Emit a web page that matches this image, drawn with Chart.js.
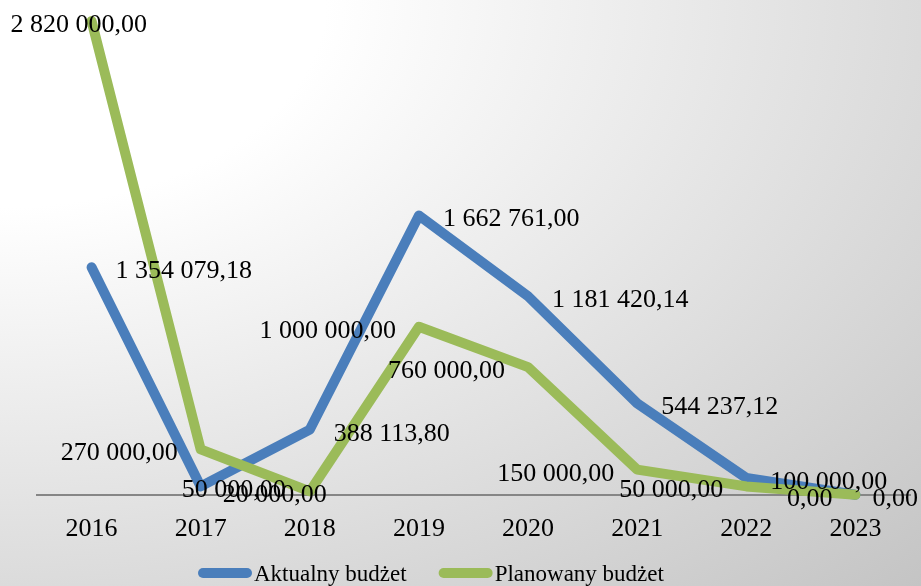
<!DOCTYPE html>
<html>
<head>
<meta charset="utf-8">
<script src="https://cdn.jsdelivr.net/npm/chart.js@4/dist/chart.umd.min.js"></script>
<style>
html,body{margin:0;padding:0;}
body{width:921px;height:586px;overflow:hidden;
  background:radial-gradient(ellipse farthest-corner at 0 0,#ffffff 0%,#ffffff 25%,#c4c4c4 100%);}
canvas{display:block;}
</style>
</head>
<body>
<canvas id="c" width="921" height="586"></canvas>
<script>
const years = ['2016', '2017', '2018', '2019', '2020', '2021', '2022', '2023'];
const actualBudget = [1354079.18, 50000.00, 388113.80, 1662761.00, 1181420.14, 544237.12, 100000.00, 0.00];
const plannedBudget = [2820000.00, 270000.00, 20000.00, 1000000.00, 760000.00, 150000.00, 50000.00, 0.00];
const seriesNames = ['Aktualny budżet', 'Planowany budżet'];

const SERIF = "'Liberation Serif','Times New Roman',serif";
const BLUE = '#4a7ebb';
const GREEN = '#9bbb59';

function fmtPL(v) {
  const parts = v.toFixed(2).split('.');
  return parts[0].replace(/\B(?=(\d{3})+(?!\d))/g, ' ') + ',' + parts[1];
}

// label placement: default side per dataset, with a few exceptions (as in the original)
const labelSide = ['right', 'left'];
const labelExceptions = {
  '0:1': {align: 'left', dx: -19},
  '0:7': {align: 'left', dx: 17},
  '1:0': {align: 'left', dx: -81},
  '1:2': {align: 'left', dx: -87}
};

const dataLabelPlugin = {
  id: 'dataLabels',
  afterDatasetsDraw(chart) {
    const ctx = chart.ctx;
    ctx.save();
    ctx.font = '26px ' + SERIF;
    ctx.fillStyle = '#000';
    ctx.textBaseline = 'alphabetic';
    chart.data.datasets.forEach((ds, di) => {
      const meta = chart.getDatasetMeta(di);
      meta.data.forEach((pt, i) => {
        const txt = fmtPL(ds.data[i]);
        const ex = labelExceptions[di + ':' + i];
        let x, align;
        if (ex) { x = pt.x + ex.dx; align = ex.align; }
        else if (labelSide[di] === 'right') { x = pt.x + 24; align = 'left'; }
        else { x = pt.x - 23; align = 'right'; }
        ctx.textAlign = align;
        ctx.fillText(txt, x, pt.y + 11);
      });
    });
    ctx.restore();
  }
};

const legendPlugin = {
  id: 'customLegend',
  afterDraw(chart) {
    const ctx = chart.ctx;
    ctx.save();
    ctx.font = '23px ' + SERIF;
    ctx.fillStyle = '#000';
    ctx.textBaseline = 'alphabetic';
    ctx.textAlign = 'left';
    let x = 198;
    chart.data.datasets.forEach((ds, di) => {
      ctx.strokeStyle = ds.borderColor;
      ctx.lineWidth = 10;
      ctx.lineCap = 'round';
      ctx.beginPath();
      ctx.moveTo(x + 5, 573);
      ctx.lineTo(x + 49, 573);
      ctx.stroke();
      ctx.fillText(ds.label, x + 56, 581);
      x += 56 + ctx.measureText(ds.label).width + 32;
    });
    ctx.restore();
  }
};

new Chart(document.getElementById('c'), {
  type: 'line',
  data: {
    labels: years,
    datasets: [
      {label: seriesNames[0], data: actualBudget, borderColor: BLUE, backgroundColor: BLUE,
       borderWidth: 10, pointRadius: 0, tension: 0, borderCapStyle: 'round', borderJoinStyle: 'round',
       clip: false, order: 2},
      {label: seriesNames[1], data: plannedBudget, borderColor: GREEN, backgroundColor: GREEN,
       borderWidth: 10, pointRadius: 0, tension: 0, borderCapStyle: 'round', borderJoinStyle: 'round',
       clip: false, order: 1}
    ]
  },
  options: {
    responsive: false,
    devicePixelRatio: 1,
    animation: false,
    layout: {padding: {left: 37, right: 11, top: 21, bottom: 22}},
    plugins: {legend: {display: false}, tooltip: {enabled: false}},
    scales: {
      x: {
        offset: true,
        grid: {display: false, drawTicks: false},
        border: {display: true, color: '#868686', width: 2},
        ticks: {font: {family: SERIF, size: 26}, color: '#000', padding: 19, maxRotation: 0}
      },
      y: {display: false, min: 0, max: 2820000}
    }
  },
  plugins: [dataLabelPlugin, legendPlugin]
});
</script>
</body>
</html>
